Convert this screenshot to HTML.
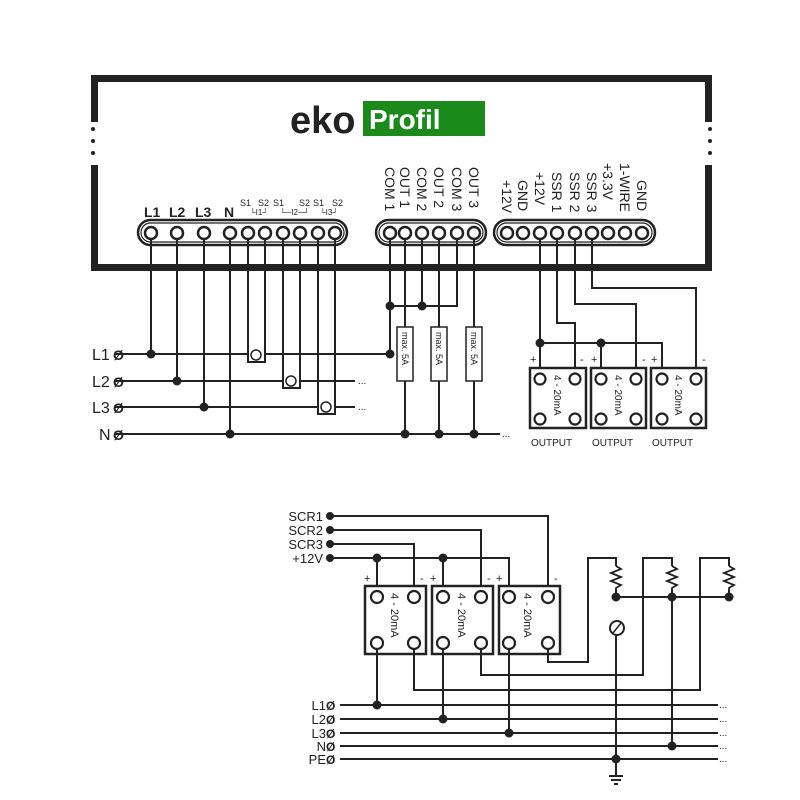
<!DOCTYPE html>
<html><head><meta charset="utf-8"><style>
body{margin:0;background:#fff}
svg{display:block}
text{font-family:"Liberation Sans",sans-serif;fill:#222}
</style></head><body>
<svg width="800" height="800" viewBox="0 0 800 800" xmlns="http://www.w3.org/2000/svg">
<g stroke="#222" fill="none">
<path d="M94.5 122 V78.5 H708.5 V122" stroke-width="7"/>
<path d="M94.5 165 V267.5 H708.5 V165" stroke-width="7"/>
</g>
<g fill="#222">
<circle cx="93" cy="129" r="2"/><circle cx="93" cy="141" r="2"/><circle cx="93" cy="153" r="2"/>
<circle cx="710" cy="129" r="2"/><circle cx="710" cy="141" r="2"/><circle cx="710" cy="153" r="2"/>
</g>
<text x="290" y="133" font-size="38" font-weight="bold" style="fill:#222">eko</text>
<rect x="363" y="101" width="122" height="35" fill="#1a8a1a"/>
<text x="369" y="129" font-size="28" font-weight="bold" style="fill:#fff">Profil</text>

<g stroke="#222" stroke-width="2.5" fill="#fff">
<rect x="138" y="220" width="209" height="25" rx="12.5"/>
<rect x="376" y="220" width="110" height="25" rx="12.5"/>
<rect x="494" y="220" width="161" height="25" rx="12.5"/>
</g>
<g stroke="#222" stroke-width="1.2" fill="none">
<rect x="141" y="223" width="203" height="19" rx="9.5"/>
<rect x="379" y="223" width="104" height="19" rx="9.5"/>
<rect x="497" y="223" width="155" height="19" rx="9.5"/>
</g>
<g stroke="#222" stroke-width="2.5" fill="#fff">
<circle cx="151" cy="233" r="6"/><circle cx="177" cy="233" r="6"/><circle cx="204" cy="233" r="6"/><circle cx="230" cy="233" r="6"/>
<circle cx="248" cy="233" r="6"/><circle cx="265" cy="233" r="6"/><circle cx="283" cy="233" r="6"/><circle cx="300" cy="233" r="6"/><circle cx="318" cy="233" r="6"/><circle cx="335" cy="233" r="6"/>
<circle cx="390" cy="233" r="6"/><circle cx="405" cy="233" r="6"/><circle cx="422" cy="233" r="6"/><circle cx="439" cy="233" r="6"/><circle cx="457" cy="233" r="6"/><circle cx="474" cy="233" r="6"/>
<circle cx="507" cy="233" r="6"/><circle cx="523" cy="233" r="6"/><circle cx="540" cy="233" r="6"/><circle cx="557" cy="233" r="6"/><circle cx="575" cy="233" r="6"/><circle cx="592" cy="233" r="6"/><circle cx="608" cy="233" r="6"/><circle cx="625" cy="233" r="6"/><circle cx="642" cy="233" r="6"/>
</g>
<g font-size="14" font-weight="bold">
<text x="144" y="217">L1</text><text x="169" y="217">L2</text><text x="195" y="217">L3</text><text x="224" y="217">N</text>
</g>
<g font-size="9" style="fill:#555">
<text x="240" y="206">S1</text><text x="258" y="206">S2</text><text x="273" y="206">S1</text><text x="299" y="206">S2</text><text x="313" y="206">S1</text><text x="332" y="206">S2</text>
<text x="250" y="215" font-size="8">└I1┘</text><text x="280" y="215" font-size="8">└─I2─┘</text><text x="320" y="215" font-size="8">└I3┘</text>
</g>
<g font-size="14">
<text transform="translate(385,167) rotate(90)">COM 1</text>
<text transform="translate(400,167) rotate(90)">OUT 1</text>
<text transform="translate(417,167) rotate(90)">COM 2</text>
<text transform="translate(434,167) rotate(90)">OUT 2</text>
<text transform="translate(452,167) rotate(90)">COM 3</text>
<text transform="translate(469,167) rotate(90)">OUT 3</text>
<text transform="translate(502,180) rotate(90)">+12V</text>
<text transform="translate(518,180) rotate(90)">GND</text>
<text transform="translate(535,172) rotate(90)">+12V</text>
<text transform="translate(552,172) rotate(90)">SSR 1</text>
<text transform="translate(570,172) rotate(90)">SSR 2</text>
<text transform="translate(587,172) rotate(90)">SSR 3</text>
<text transform="translate(603,163) rotate(90)">+3.3V</text>
<text transform="translate(620,163) rotate(90)">1-WIRE</text>
<text transform="translate(637,180) rotate(90)">GND</text>
</g>

<g stroke="#222" stroke-width="2" fill="none">
<path d="M151 239V354M177 239V381M204 239V407M230 239V434"/>
<path d="M115 354H248M265 354H390M115 381H283M300 381H355M115 407H318M335 407H355M115 434H500"/>
<path d="M248 239V362H265V239"/><path d="M283 239V388H300V239"/><path d="M318 239V414H335V239"/>
<path d="M390 239V354M422 239V306M457 239V306H390"/>
<path d="M405 239V327M405 381V434M439 239V327M439 381V434M474 239V327M474 381V434"/>
<rect x="397" y="327" width="16" height="54" stroke-width="1.5"/>
<rect x="431" y="327" width="16" height="54" stroke-width="1.5"/>
<rect x="466" y="327" width="16" height="54" stroke-width="1.5"/>
<circle cx="256" cy="355" r="5" stroke-width="1.5"/><circle cx="291" cy="381" r="5" stroke-width="1.5"/><circle cx="326" cy="407" r="5" stroke-width="1.5"/>
<path d="M540 239V368M557 239V323H575V368M575 239V304H636V368M592 239V288H696V368M540 343H662V368M601 343V368"/>
</g>
<g font-size="9">
<text transform="translate(402,332) rotate(90)">max. 5A</text>
<text transform="translate(436,332) rotate(90)">max. 5A</text>
<text transform="translate(471,332) rotate(90)">max. 5A</text>
</g>
<g fill="#222">
<circle cx="151" cy="354" r="4.5"/><circle cx="177" cy="381" r="4.5"/><circle cx="204" cy="407" r="4.5"/><circle cx="230" cy="434" r="4.5"/>
<circle cx="390" cy="354" r="4.5"/><circle cx="390" cy="306" r="4.5"/><circle cx="422" cy="306" r="4.5"/>
<circle cx="405" cy="434" r="4.5"/><circle cx="439" cy="434" r="4.5"/><circle cx="474" cy="434" r="4.5"/>
<circle cx="540" cy="343" r="4.5"/><circle cx="601" cy="343" r="4.5"/>
</g>
<g font-size="16">
<text x="92" y="360">L1</text><text x="92" y="387">L2</text><text x="92" y="413">L3</text><text x="99" y="440">N</text>
</g>
<g font-size="14" font-weight="bold">
<text x="113" y="360">Ø</text><text x="113" y="387">Ø</text><text x="113" y="413">Ø</text><text x="113" y="440">Ø</text>
</g>
<g font-size="10"><text x="358" y="384">...</text><text x="358" y="410">...</text><text x="502" y="437">...</text></g>

<g stroke="#222" fill="none">
<rect x="530" y="368" width="56" height="60" stroke-width="2.5"/>
<rect x="591" y="368" width="55" height="60" stroke-width="2.5"/>
<rect x="651" y="368" width="55" height="60" stroke-width="2.5"/>
<g stroke-width="2.2" fill="#fff">
<circle cx="540" cy="379" r="5.5"/><circle cx="575" cy="379" r="5.5"/><circle cx="540" cy="419" r="5.5"/><circle cx="575" cy="419" r="5.5"/>
<circle cx="601" cy="379" r="5.5"/><circle cx="636" cy="379" r="5.5"/><circle cx="601" cy="419" r="5.5"/><circle cx="636" cy="419" r="5.5"/>
<circle cx="662" cy="379" r="5.5"/><circle cx="696" cy="379" r="5.5"/><circle cx="662" cy="419" r="5.5"/><circle cx="696" cy="419" r="5.5"/>
</g></g>
<g font-size="10">
<text transform="translate(554,375) rotate(90)">4 - 20mA</text>
<text transform="translate(615,375) rotate(90)">4 - 20mA</text>
<text transform="translate(675,375) rotate(90)">4 - 20mA</text>
<text x="531" y="446">OUTPUT</text><text x="592" y="446">OUTPUT</text><text x="652" y="446">OUTPUT</text>
<text x="530" y="363" font-size="11">+</text><text x="580" y="363" font-size="11">-</text>
<text x="591" y="363" font-size="11">+</text><text x="642" y="363" font-size="11">-</text>
<text x="651" y="363" font-size="11">+</text><text x="702" y="363" font-size="11">-</text>
</g>

<g stroke="#222" stroke-width="2" fill="none">
<path d="M330 516H548V586M330 530H481V586M330 544H414V586M330 558H509V586M377 558V586M443 558V586"/>
<path d="M377 643V705M443 643V719M509 643V733"/>
<path d="M414 643V690H700V558H729V566M481 643V675H643V558H672V566M548 643V662H588V558H616V566"/>
<path d="M616 590V597H729V590M672 590V746"/>
<path d="M340 705H718M340 719H718M340 733H718M340 746H718M340 759H718"/>
<path d="M616 636V776"/>
<path d="M609 776H623M611 780H621M614 784H618"/>
<path d="M616 566l5 3-10 4 10 4-10 4 10 4-5 3v2M672 566l5 3-10 4 10 4-10 4 10 4-5 3v2M729 566l5 3-10 4 10 4-10 4 10 4-5 3v2" stroke-width="1.8"/>
<circle cx="617" cy="628" r="7"/><path d="M613 633L621 623" stroke-width="1.5"/>
<rect x="365" y="586" width="61" height="68" stroke-width="2.5"/>
<rect x="432" y="586" width="61" height="68" stroke-width="2.5"/>
<rect x="499" y="586" width="61" height="68" stroke-width="2.5"/>
<g stroke-width="2.2" fill="#fff">
<circle cx="377" cy="597" r="6"/><circle cx="414" cy="597" r="6"/><circle cx="377" cy="643" r="6"/><circle cx="414" cy="643" r="6"/>
<circle cx="443" cy="597" r="6"/><circle cx="481" cy="597" r="6"/><circle cx="443" cy="643" r="6"/><circle cx="481" cy="643" r="6"/>
<circle cx="509" cy="597" r="6"/><circle cx="548" cy="597" r="6"/><circle cx="509" cy="643" r="6"/><circle cx="548" cy="643" r="6"/>
</g></g>
<g fill="#222">
<circle cx="330" cy="516" r="4"/><circle cx="330" cy="530" r="4"/><circle cx="330" cy="544" r="4"/><circle cx="330" cy="558" r="4"/>
<circle cx="377" cy="558" r="4.5"/><circle cx="443" cy="558" r="4.5"/>
<circle cx="616" cy="597" r="4.5"/><circle cx="672" cy="597" r="4.5"/><circle cx="729" cy="597" r="4.5"/>
<circle cx="377" cy="705" r="4.5"/><circle cx="443" cy="719" r="4.5"/><circle cx="509" cy="733" r="4.5"/><circle cx="672" cy="746" r="4.5"/><circle cx="616" cy="759" r="4.5"/>
</g>
<g font-size="13" text-anchor="end">
<text x="323" y="521">SCR1</text><text x="323" y="535">SCR2</text><text x="323" y="549">SCR3</text><text x="323" y="563">+12V</text>
<text x="326" y="710">L1</text><text x="326" y="724">L2</text><text x="326" y="738">L3</text><text x="326" y="751">N</text><text x="326" y="764">PE</text>
</g>
<g font-size="12" font-weight="bold">
<text x="326" y="710">Ø</text><text x="326" y="724">Ø</text><text x="326" y="738">Ø</text><text x="326" y="751">Ø</text><text x="326" y="764">Ø</text>
</g>
<g font-size="10"><text x="719" y="708">...</text><text x="719" y="722">...</text><text x="719" y="736">...</text><text x="719" y="749">...</text><text x="719" y="762">...</text></g>
<g font-size="11">
<text x="364" y="582">+</text><text x="420" y="582">-</text>
<text x="430" y="582">+</text><text x="487" y="582">-</text>
<text x="496" y="582">+</text><text x="554" y="582">-</text>
<text transform="translate(391,593) rotate(90)">4 - 20mA</text>
<text transform="translate(458,593) rotate(90)">4 - 20mA</text>
<text transform="translate(524,593) rotate(90)">4 - 20mA</text>
</g>
</svg>
</body></html>
